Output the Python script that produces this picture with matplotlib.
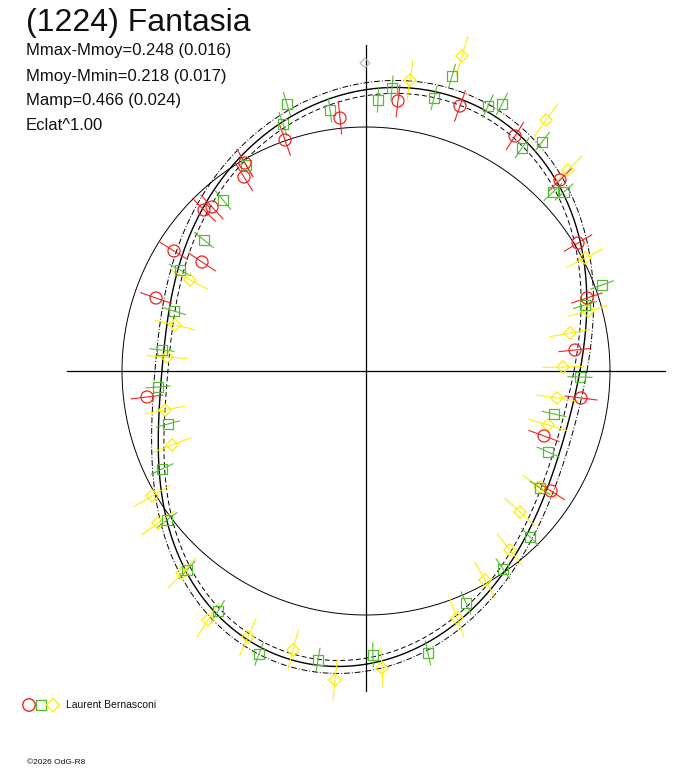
import numpy as np
import matplotlib
matplotlib.use("Agg")
import matplotlib.pyplot as plt

plt.rcParams['font.family'] = ['Liberation Sans', 'DejaVu Sans']

# reference circle radius and lightcurve (phase angle deg, amplitude radius)
R_REF = 244
curve_ang = [180, -161.5, -147.6, -135.5, -123, -111, -97, -90, -74.6, -61, -48.5,
             -33.6, -19.6, 0, 15, 29.5, 44, 57, 67, 79, 90, 97.5, 106.5, 121, 137, 149, 163]
curve_r = [204, 217, 240, 265, 285, 298, 293, 289, 279, 256, 232,
           215, 206, 217, 232, 246, 262, 282, 294, 286, 278, 275, 267, 246, 228, 217, 207]

red_x = [32, -26, 94, 149, 194, 212, 221, 209, 215, 178, 185, -81, -121, -122, -154, -162, -192, -164, -210, -219]
red_y = [270, 253, 265, 235, 191, 128, 73, 21, -27, -65, -120, 231, 208, 194, 164, 161, 120, 109, 73, -26]

green_x = [26, 86, 68, 122, 136, 12, -36, -79, -83, -120, -143, -162, -186, -192, -204, -208, -198, -204, -199,
           -179, -148, -107, -48, 7, 62, 100, 137, 164, 174, 182, 188, 214, 219, 236, 198, 187, 176, 156]
green_y = [283, 295, 273, 265, 267, 271, 261, 267, 247, 206, 171, 131, 101, 60, 21, -16, -53, -98, -149,
           -199, -240, -283, -289, -284, -282, -232, -198, -166, -117, -81, -43, -6, 66, 86, 179, 179, 229, 223]

yellow_x = [96, 44, 180, 202, 219, 222, 204, 197, 191, 182, 174, 154, 144, 119, 91, 16, -31, -73, -118, -158,
            -184, -208, -214, -194, -201, -199, -191, -176]
yellow_y = [315, 291, 251, 201, 113, 60, 38, 4, -27, -54, -116, -141, -179, -209, -247, -297, -309, -279, -266, -249,
            -202, -152, -125, -74, -39, 14, 46, 91]

gray_x = [-1]
gray_y = [308]

fig = plt.figure(figsize=(6.88, 7.68), dpi=100)
ax = fig.add_axes([0, 0, 1, 1])
ax.set_xlim(-366, 322)
ax.set_ylim(-397, 371)
ax.axis("off")

# axes cross
ax.plot([-299, 299], [0, 0], color="black", lw=0.9)
ax.plot([0, 0], [-320, 326], color="black", lw=0.9)

t = np.linspace(0, 2 * np.pi, 400)
ax.plot(R_REF * np.cos(t), R_REF * np.sin(t), color="black", lw=0.7)

# Fourier fit of the curve (4 harmonics)
a = np.radians(curve_ang)
def design(th):
    cols = [np.ones_like(th)]
    for k in range(1, 5):
        cols += [np.cos(k * th), np.sin(k * th)]
    return np.column_stack(cols)
coef, *_ = np.linalg.lstsq(design(a), np.array(curve_r, float), rcond=None)
rf = design(t) @ coef
ax.plot(rf * np.cos(t), rf * np.sin(t), color="black", lw=1.0)
ax.plot((rf - 6) * np.cos(t), (rf - 6) * np.sin(t), color="black", lw=0.7, ls=(0, (5, 3)))
ax.plot((rf + 7) * np.cos(t), (rf + 7) * np.sin(t), color="black", lw=0.7, ls=(0, (6, 2, 1, 2)))


def draw(xs, ys, color, marker, size, err):
    xs = np.array(xs, float)
    ys = np.array(ys, float)
    r = np.hypot(xs, ys)
    ux, uy = xs / r, ys / r
    for x, y, dx, dy in zip(xs, ys, ux, uy):
        ax.plot([x - err * dx, x + err * dx], [y - err * dy, y + err * dy], color=color, lw=0.8)
    ax.scatter(xs, ys, s=size, marker=marker, facecolors="none", edgecolors=color, linewidths=0.9, zorder=3)


draw(yellow_x, yellow_y, "#ffee00", "D", 40, 20)
draw(green_x, green_y, "#55bb33", "s", 45, 12)
draw(red_x, red_y, "#ee2222", "o", 75, 16)
draw(gray_x, gray_y, "#bbbbbb", "D", 25, 0)

# texts
fig.text(26 / 688, 1 - 23 / 768, "(1224) Fantasia", fontsize=23, color="#111111", va="center")
for i, s in enumerate(["Mmax-Mmoy=0.248 (0.016)", "Mmoy-Mmin=0.218 (0.017)",
                       "Mamp=0.466 (0.024)", "Eclat^1.00"]):
    fig.text(26 / 688, 1 - (51 + 25 * i) / 768, s, fontsize=12, color="#111111", va="center")

# legend
ly = 1 - 705 / 768
kw = dict(transform=fig.transFigure, facecolors="none", clip_on=False)
ax.scatter([29 / 688], [ly], s=80, marker="o", edgecolors="#ee2222", **kw)
ax.scatter([41 / 688], [ly], s=55, marker="s", edgecolors="#55bb33", **kw)
ax.scatter([53 / 688], [ly], s=45, marker="D", edgecolors="#ffee00", **kw)
fig.text(66 / 688, ly, "Laurent Bernasconi", fontsize=7.5, color="#111111", va="center")
fig.text(27 / 688, 1 - 762 / 768, "©2026 OdG-R8", fontsize=6, color="#111111", va="center")

fig.savefig("out.png", dpi=100)
